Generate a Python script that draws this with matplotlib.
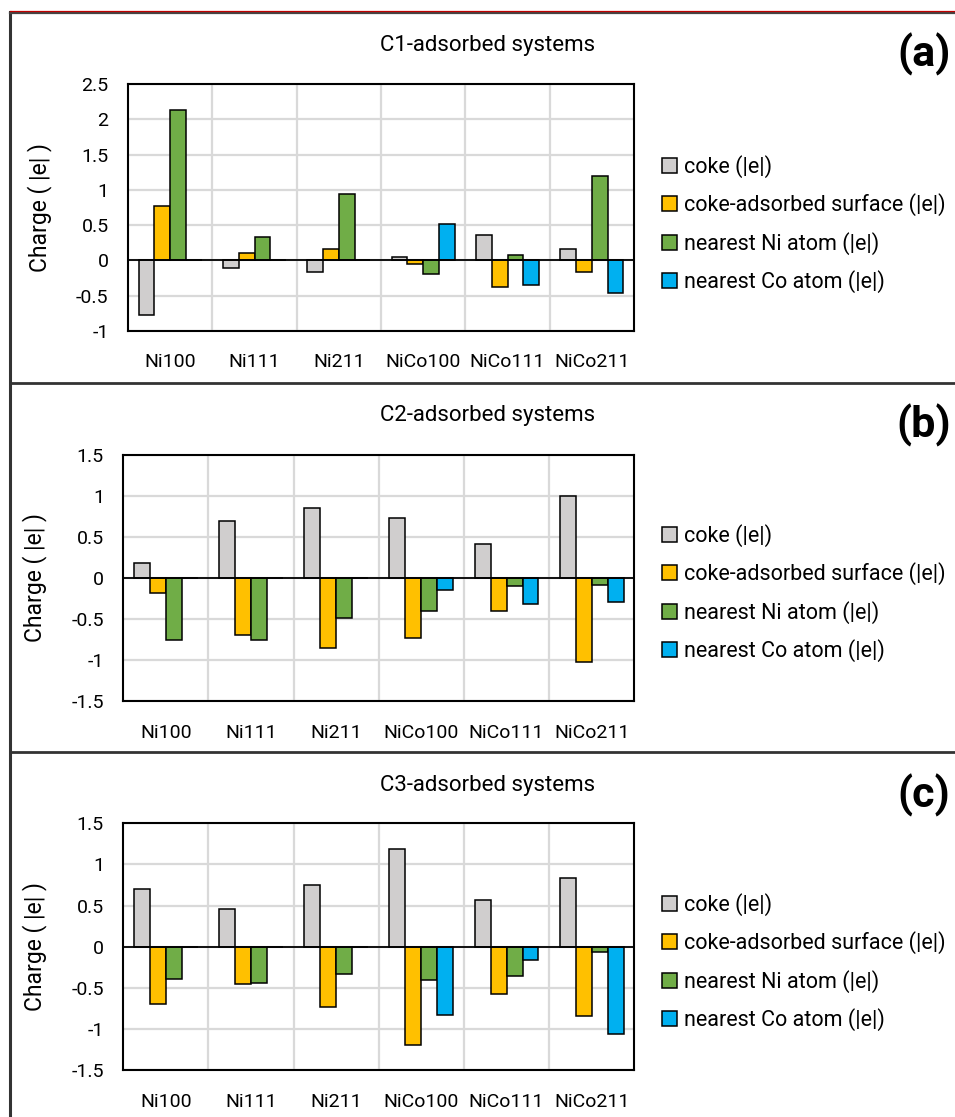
import numpy as np
import matplotlib
matplotlib.use("Agg")
import matplotlib.pyplot as plt
from matplotlib.lines import Line2D

plt.rcParams['font.family'] = ['Roboto', 'DejaVu Sans']

## Data
surfaces = ['Ni100', 'Ni111', 'Ni211', 'NiCo100', 'NiCo111', 'NiCo211']
series = ['coke (|e|)', 'coke-adsorbed surface (|e|)',
          'nearest Ni atom (|e|)', 'nearest Co atom (|e|)']
colors = ['#D0CECE', '#FFC000', '#70AD47', '#00B0F0']

# C1-adsorbed
c1_coke = [-0.77, -0.11, -0.165, 0.05, 0.36, 0.16]
c1_surf = [0.77, 0.10, 0.16, -0.05, -0.37, -0.165]
c1_ni = [2.13, 0.335, 0.935, -0.19, 0.07, 1.19]
c1_co = [0, 0, 0, 0.51, -0.35, -0.46]

# C2-adsorbed
c2_coke = [0.185, 0.69, 0.85, 0.725, 0.41, 1.00]
c2_surf = [-0.18, -0.69, -0.85, -0.73, -0.405, -1.02]
c2_ni = [-0.75, -0.76, -0.49, -0.40, -0.10, -0.085]
c2_co = [0, 0, 0, -0.14, -0.32, -0.29]

# C3-adsorbed
c3_coke = [0.70, 0.465, 0.75, 1.19, 0.57, 0.84]
c3_surf = [-0.70, -0.455, -0.735, -1.19, -0.57, -0.84]
c3_ni = [-0.39, -0.435, -0.325, -0.405, -0.35, -0.06]
c3_co = [0, 0, 0, -0.83, -0.16, -1.06]

panels = [
    dict(title='C1-adsorbed systems', tag='(a)', ylim=(-1, 2.5), yticks=np.arange(-1, 2.51, 0.5),
         data=[c1_coke, c1_surf, c1_ni, c1_co],
         rect=[128/955, 1-331/1117, 506/955, 247/1117],
         title_y=1-46/1117, tag_y=1-54/1117, leg_y=1-224/1117),
    dict(title='C2-adsorbed systems', tag='(b)', ylim=(-1.5, 1.5), yticks=np.arange(-1.5, 1.51, 0.5),
         data=[c2_coke, c2_surf, c2_ni, c2_co],
         rect=[123.3/955, 1-701.3/1117, 511/955, 246.6/1117],
         title_y=1-416/1117, tag_y=1-425/1117, leg_y=1-593/1117),
    dict(title='C3-adsorbed systems', tag='(c)', ylim=(-1.5, 1.5), yticks=np.arange(-1.5, 1.51, 0.5),
         data=[c3_coke, c3_surf, c3_ni, c3_co],
         rect=[123.3/955, 1-1070.3/1117, 511/955, 247/1117],
         title_y=1-785/1117, tag_y=1-795/1117, leg_y=1-962/1117),
]

fig = plt.figure(figsize=(9.55, 11.17), dpi=100)

# panel frames
fig.add_artist(Line2D([10/955, 10/955], [0, 1-12/1117], color='#333333', lw=2.2))
fig.add_artist(Line2D([10/955, 1], [1-12.5/1117, 1-12.5/1117], color='#444444', lw=1.6))
fig.add_artist(Line2D([10/955, 1], [1-11/1117, 1-11/1117], color='#C00000', lw=0.9))
for yy in [383, 752]:
    fig.add_artist(Line2D([10/955, 1], [1-yy/1117, 1-yy/1117], color='#333333', lw=2.0))

x = np.arange(len(surfaces))
w = 0.1875
offsets = (np.arange(4) - 1.5) * w

for p in panels:
    ax = fig.add_axes(p['rect'])
    for k in range(4):
        ax.bar(x + offsets[k], p['data'][k], width=w, color=colors[k],
               edgecolor='black', linewidth=1.1, label=series[k], zorder=3)
    ax.axhline(0, color='black', lw=1.3, zorder=4)
    ax.set_xlim(-0.5, len(surfaces) - 0.5)
    ax.set_ylim(*p['ylim'])
    ax.set_yticks(p['yticks'])
    ax.set_yticklabels(['%g' % v for v in p['yticks']])
    ax.set_xticks(x)
    ax.set_xticklabels(surfaces)
    ax.set_xticks(np.arange(0.5, len(surfaces) - 1, 1), minor=True)
    ax.grid(True, which='minor', axis='x', color='#D9D9D9', lw=1.6, zorder=0)
    ax.grid(True, which='major', axis='y', color='#D9D9D9', lw=1.6, zorder=0)
    ax.tick_params(which='both', length=0)
    ax.tick_params(axis='y', pad=14, labelsize=14)
    ax.tick_params(axis='x', pad=16, labelsize=14)
    for s in ax.spines.values():
        s.set_linewidth(1.5)
    ax.set_ylabel('Charge ( |e| )', fontsize=16.5)
    ax.yaxis.set_label_coords(-76/(p['rect'][2]*955), 0.5)

    fig.text(488/955, p['title_y'], p['title'], ha='center', va='center', fontsize=16)
    fig.text(924/955, p['tag_y'], p['tag'], ha='center', va='center', fontsize=31, fontweight='bold')

    fig.legend(*ax.get_legend_handles_labels(), loc='center left',
               bbox_to_anchor=(662/955, p['leg_y']), frameon=False, fontsize=15.5,
               handlelength=0.7, handleheight=0.7, handletextpad=0.3,
               labelspacing=0.72, borderaxespad=0, borderpad=0)

fig.savefig('out.png', dpi=100)
